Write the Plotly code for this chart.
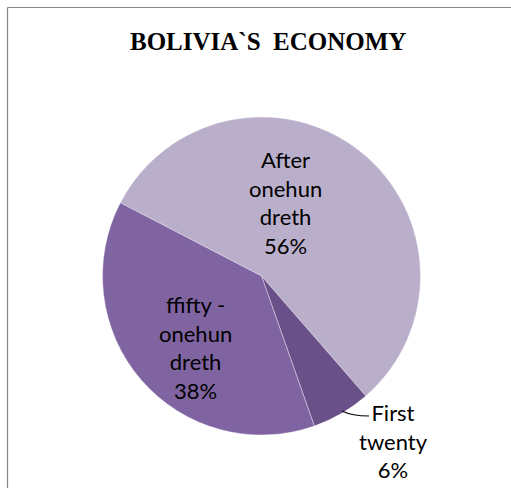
import plotly.graph_objects as go

# Data
labels = ["After onehundreth", "First twenty", "ffifty - onehundreth"]
display_labels = ["After<br>onehun<br>dreth", "First<br>twenty", "ffifty -<br>onehun<br>dreth"]
values = [56, 6, 38]
colors = ["#BAAFCA", "#6A5089", "#8064A2"]

W, H = 511, 488

def px(x):
    return x / W

def py(y):
    return 1 - y / H

fig = go.Figure()
fig.add_trace(go.Pie(
    labels=labels,
    values=values,
    sort=False,
    direction="clockwise",
    rotation=297.4,
    marker=dict(colors=colors, line=dict(color="rgba(255,255,255,0.6)", width=0.6)),
    textinfo="none",
    hoverinfo="label+percent",
    showlegend=False,
    domain=dict(x=[px(102), px(421)], y=[1 - 435 / H, 1 - 117 / H]),
))

total = sum(values)
label_pos = [(285, 203), (393, 441), (195, 347)]
for disp, v, (x, y) in zip(display_labels, values, label_pos):
    fig.add_annotation(
        x=px(x), y=py(y), xref="paper", yref="paper",
        text=f"{disp}<br>{round(100 * v / total)}%",
        showarrow=False, xanchor="center", yanchor="middle",
        font=dict(family="Lato", size=22, color="#000000"),
    )

# Leader line for the small slice
fig.add_shape(
    type="path", xref="paper", yref="paper",
    path=f"M {px(342)} {py(411)} Q {px(352)} {py(416)} {px(369)} {py(416)}",
    line=dict(color="#000000", width=1.2),
)

# Title
fig.add_annotation(
    x=px(267.5), y=py(41.5), xref="paper", yref="paper",
    text="<b>BOLIVIA`S  ECONOMY</b>", showarrow=False,
    xanchor="center", yanchor="middle",
    font=dict(family="Liberation Serif", size=25, color="#000000"),
)

# Chart border (left and top edges visible in the frame)
fig.add_shape(type="line", xref="paper", yref="paper",
              x0=px(7.5), x1=px(7.5), y0=0, y1=py(7.5),
              line=dict(color="#868686", width=1.2))
fig.add_shape(type="line", xref="paper", yref="paper",
              x0=px(7.5), x1=1, y0=py(7.5), y1=py(7.5),
              line=dict(color="#868686", width=1.2))

fig.update_layout(
    width=W, height=H,
    margin=dict(l=0, r=0, t=0, b=0),
    paper_bgcolor="#FFFFFF",
    plot_bgcolor="#FFFFFF",
)

fig.write_html(
    "out.html",
    config={"displayModeBar": False},
    post_script="document.body.style.margin='0';document.body.style.overflow='hidden';",
)
